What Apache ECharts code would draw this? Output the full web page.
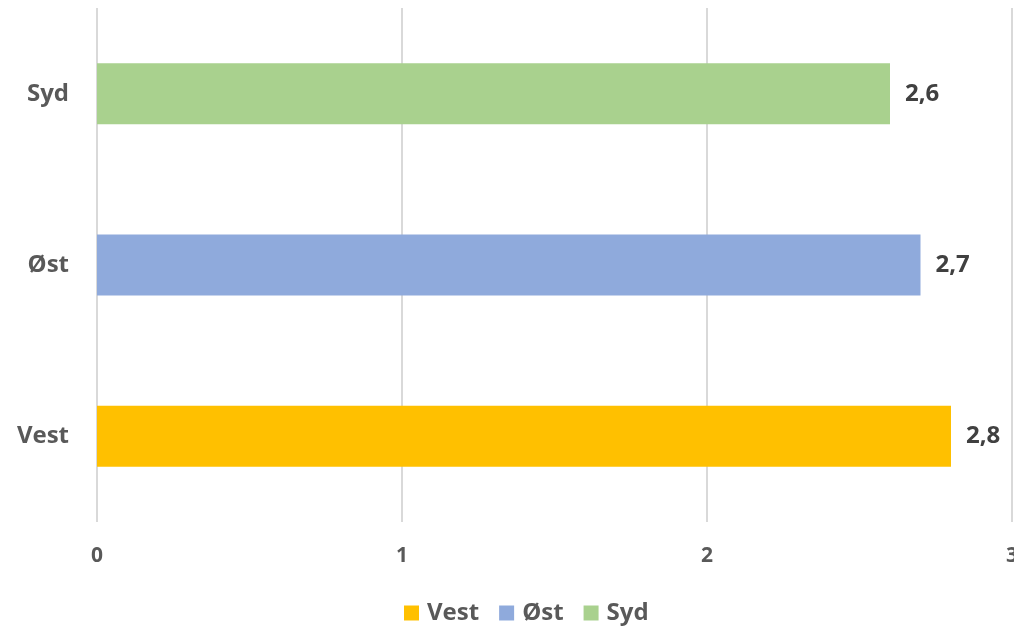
<!DOCTYPE html>
<html>
<head>
<meta charset="utf-8">
<script src="https://cdn.jsdelivr.net/npm/echarts@6/dist/echarts.min.js"></script>
<style>html,body{margin:0;padding:0;background:#fff}#c{width:1014px;height:627px}</style>
</head>
<body>
<div id="c"></div>
<script>
const categories = ['Vest', 'Øst', 'Syd'];
const seriesNames = ['Vest', 'Øst', 'Syd'];
const values = [2.8, 2.7, 2.6];
const colors = ['#FFC000', '#8FAADC', '#A9D18E'];
const xTicks = [0, 1, 2, 3];

const font = '"Open Sans", sans-serif';
const chart = echarts.init(document.getElementById('c'));
const series = seriesNames.map((name, i) => ({
  name,
  type: 'bar',
  stack: 'one',
  barWidth: 61,
  itemStyle: { color: colors[i] },
  data: categories.map((c, j) => j === i ? values[i] : null),
  label: {
    show: true, position: 'right', distance: 15,
    fontFamily: font, fontWeight: 'bold', fontSize: 24, color: '#404040',
    formatter: p => String(p.value).replace('.', ',')
  }
}));
chart.setOption({
  animation: false,
  grid: { left: 97, right: 2, top: 8, bottom: 105, containLabel: false, outerBoundsMode: 'none' },
  xAxis: {
    type: 'value', min: xTicks[0], max: xTicks[xTicks.length - 1], interval: 1,
    axisLine: { show: false }, axisTick: { show: false },
    splitLine: { show: true, lineStyle: { color: '#d9d9d9', width: 2 } },
    axisLabel: { margin: 24, fontFamily: font, fontWeight: 'bold', fontSize: 21, color: '#595959',
      showMaxLabel: true }
  },
  yAxis: {
    type: 'category', data: categories,
    axisLine: { show: false }, axisTick: { show: false },
    axisLabel: { margin: 28, fontFamily: font, fontWeight: 'bold', fontSize: 24, color: '#595959' }
  },
  legend: {
    top: 596, left: 399, itemWidth: 15, itemHeight: 15, itemGap: 20,
    icon: 'rect',
    textStyle: { fontFamily: font, fontWeight: 'bold', fontSize: 24, color: '#595959', padding: [0, 0, 0, 3] },
    data: seriesNames
  },
  series
});
</script>
</body>
</html>
